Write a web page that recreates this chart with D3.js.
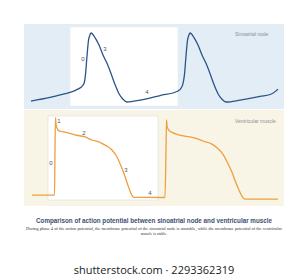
<!DOCTYPE html>
<html lang="en">
<head>
<meta charset="UTF-8">
<title>Sinoatrial node vs ventricular muscle</title>
<script src="https://d3js.org/d3.v7.min.js"></script>
<style>
  body {margin:0;background:#fff;}
  svg {display:block;}
  .panel-name {font-family:"Liberation Sans",Arial,sans-serif;font-size:5px;fill:#8a8f96;}
  .phase {font-family:"Liberation Sans",Arial,sans-serif;font-size:6px;fill:#555;}
</style>
</head>
<body>
<div id="chart"></div>
<script>
// sinoatrial node potential: time (ms), membrane potential (mV)
const saTime = [2,40,70,92,102,108,111,114,117,120,122,125,130,138,146,154,162,170,178,186,194,220,260,296,302,306,309,312,315,318,320,323,328,336,344,352,360,368,376,384,392,420,460,484,496];
const saMv   = [-64,-60,-56,-52,-49,-45,-35,-15,2,8,10,9,5,-3,-14,-23,-34,-46,-56,-62,-65,-63,-58,-53,-50,-45,-35,-15,2,8,10,9,5,-3,-14,-23,-34,-46,-56,-62,-65,-63,-59,-56,-51];
// ventricular muscle potential
const vmTime = [4,49,50,51,52,54,58,72,90,110,124,140,152,164,174,182,189,195,200,204,208,270,272,273,274,277,284,294,312,332,346,362,374,386,396,404,411,417,422,426,430,440,496];
const vmMv   = [-87,-87,-20,29,19.5,13.5,9,7,3,0,-4.5,-8,-13,-19.5,-30,-43.5,-57,-70.5,-81,-88,-90.5,-90.7,-20,25.5,16.5,10.5,7,4,1,-2,-6,-10,-16,-26,-40,-53,-67,-78,-86,-91,-93,-93,-93];

const saPhases = ["0", "3", "4"];
const vmPhases = ["1", "2", "0", "3", "4"];
const panelNames = ["Sinoatrial node", "Ventricular muscle"];
const title = "Comparison of action potential between sinoatrial node and ventricular muscle";
const noteLines = ["During phase 4 of the action potential, the membrane potential of the sinoatrial node is unstable, while the membrane potential of the ventricular", "muscle is stable."];
const watermark = "shutterstock.com \u00b7 2293362319";

const W = 308, H = 280;
const svg = d3.select("#chart").append("svg").attr("width", W).attr("height", H);

const x = d3.scaleLinear().domain([0, 500]).range([30, 280]);
const ySa = d3.scaleLinear().domain([-70, 20]).range([106.6, 23.8]);
const yVm = d3.scaleLinear().domain([-100, 40]).range([203.7, 110.3]);

// panel backgrounds
svg.append("rect").attr("x", 24).attr("y", 24).attr("width", 260).attr("height", 85).attr("fill", "#e3edf6");
svg.append("rect").attr("x", 24).attr("y", 110).attr("width", 260).attr("height", 96).attr("fill", "#f8f5e6");

// highlighted single cycle
svg.append("rect").attr("x", x(80)).attr("y", 27).attr("width", x(296) - x(80)).attr("height", 79)
  .attr("fill", "#fff").attr("stroke", "#e6ebf0").attr("stroke-width", 0.6);
svg.append("rect").attr("x", x(36)).attr("y", 116).attr("width", x(256) - x(36)).attr("height", 84)
  .attr("fill", "#fff").attr("stroke", "#dcdcdc").attr("stroke-width", 0.6);

const saData = saTime.map((t, i) => [t, saMv[i]]);
const vmData = vmTime.map((t, i) => [t, vmMv[i]]);

svg.append("path").datum(saData)
  .attr("d", d3.line().x(d => x(d[0])).y(d => ySa(d[1])).curve(d3.curveMonotoneX))
  .attr("fill", "none").attr("stroke", "#2c5487").attr("stroke-width", 1.3);
svg.append("path").datum(vmData)
  .attr("d", d3.line().x(d => x(d[0])).y(d => yVm(d[1])).curve(d3.curveMonotoneX))
  .attr("fill", "none").attr("stroke", "#eda03f").attr("stroke-width", 1.3);

// phase numbers
const saPos = [[83, 61], [105, 51], [147, 94]];
svg.selectAll(".saPhase").data(saPhases).enter().append("text")
  .attr("class", "phase").attr("text-anchor", "middle")
  .attr("x", (d, i) => saPos[i][0]).attr("y", (d, i) => saPos[i][1]).text(d => d);
const vmPos = [[59, 123], [84, 135], [51, 165], [126, 172], [150, 195]];
svg.selectAll(".vmPhase").data(vmPhases).enter().append("text")
  .attr("class", "phase").attr("text-anchor", "middle")
  .attr("x", (d, i) => vmPos[i][0]).attr("y", (d, i) => vmPos[i][1]).text(d => d);

svg.append("text").attr("class", "panel-name").attr("x", 235).attr("y", 36).text(panelNames[0]);
svg.append("text").attr("class", "panel-name").attr("x", 235).attr("y", 123).text(panelNames[1]);

// caption
svg.append("text").attr("x", 154).attr("y", 223).attr("text-anchor", "middle")
  .attr("font-family", "Liberation Sans, Arial, sans-serif").attr("font-weight", "bold")
  .attr("font-size", 6.5).attr("fill", "#3e4f6f")
  .attr("textLength", 236).attr("lengthAdjust", "spacingAndGlyphs").text(title);
svg.append("text").attr("x", 154).attr("y", 230).attr("text-anchor", "middle")
  .attr("font-family", "Liberation Serif, serif").attr("font-size", 4).attr("fill", "#333")
  .attr("textLength", 256).attr("lengthAdjust", "spacingAndGlyphs").text(noteLines[0]);
svg.append("text").attr("x", 154).attr("y", 235).attr("text-anchor", "middle")
  .attr("font-family", "Liberation Serif, serif").attr("font-size", 4).attr("fill", "#333").text(noteLines[1]);

svg.append("text").attr("x", 154).attr("y", 274).attr("text-anchor", "middle")
  .attr("font-family", "Open Sans, sans-serif").attr("font-size", 11).attr("fill", "#222")
  .text(watermark);
</script>
</body>
</html>
